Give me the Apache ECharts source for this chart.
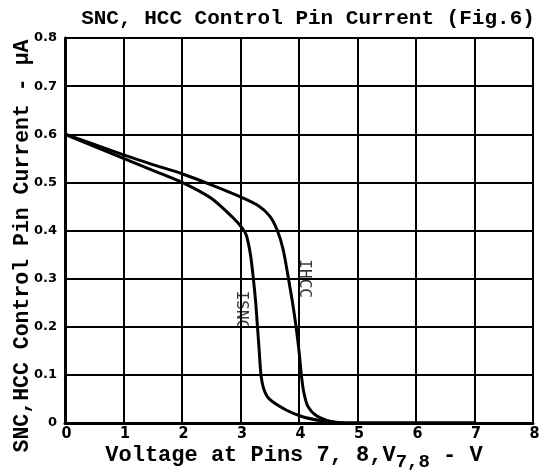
<!DOCTYPE html>
<html>
<head>
<meta charset="utf-8">
<script src="https://cdn.jsdelivr.net/npm/echarts@6/dist/echarts.min.js"></script>
<style>
  html, body { margin: 0; padding: 0; background: #fff; }
  #chart { width: 539px; height: 473px; }
</style>
</head>
<body>
<div id="chart"></div>
<script>
// curve data: [voltage V7,8, current µA]
const hccCurve = [
  [0, 0.6], [0.5, 0.579], [1, 0.557], [1.5, 0.537], [2, 0.518], [2.5, 0.495],
  [3, 0.47], [3.3, 0.452], [3.5, 0.43], [3.63, 0.4], [3.73, 0.36], [3.82, 0.3],
  [3.89, 0.25], [3.95, 0.2], [4.0, 0.15], [4.04, 0.1], [4.08, 0.065],
  [4.15, 0.035], [4.3, 0.015], [4.55, 0.003], [4.8, 0], [7, 0]
]
const sncCurve = [
  [0, 0.6], [0.5, 0.575], [1, 0.55], [1.5, 0.525], [2, 0.5], [2.5, 0.467],
  [2.86, 0.428], [3.03, 0.405], [3.1, 0.39], [3.17, 0.35], [3.22, 0.3],
  [3.26, 0.25], [3.29, 0.2], [3.32, 0.15], [3.35, 0.1], [3.4, 0.07],
  [3.49, 0.05], [3.78, 0.027], [4.06, 0.013], [4.35, 0.005], [4.6, 0], [7, 0]
]
const curveLabels = [
  { name: 'ISNC', value: [3.01, 0.235] },
  { name: 'IHCC', value: [4.09, 0.3] }
]
const xTicks = [0, 1, 2, 3, 4, 5, 6, 7, 8]
const yTicks = [0, 0.1, 0.2, 0.3, 0.4, 0.5, 0.6, 0.7, 0.8]

const mono = '"Liberation Mono", "DejaVu Sans Mono", monospace'

const myChart = echarts.init(document.getElementById('chart'))

const option = {
  animation: false,
  title: {
    text: 'SNC, HCC Control Pin Current (Fig.6)',
    left: 303,
    top: 3,
    textAlign: 'center',
    textStyle: { fontFamily: mono, fontWeight: 'bold', fontSize: 21, color: '#000' }
  },
  grid: { left: 65, right: 6, top: 38, bottom: 50, outerBoundsMode: 'none' },
  graphic: [
    {
      type: 'text',
      x: 23,
      y: 246,
      rotation: Math.PI / 2,
      style: {
        text: 'SNC,HCC Control Pin Current - μA',
        fontFamily: mono,
        fontWeight: 'bold',
        fontSize: 21.5,
        fill: '#000',
        align: 'center',
        verticalAlign: 'middle'
      }
    },
    {
      type: 'text',
      x: 294,
      y: 444,
      style: {
        text: '{m|Voltage at Pins 7, 8,V}{sub|7,8}{m| - V}',
        align: 'center',
        verticalAlign: 'top',
        rich: {
          m: {
            fontFamily: mono,
            fontWeight: 'bold',
            fontSize: 22,
            lineHeight: 22,
            verticalAlign: 'top',
            fill: '#000'
          },
          sub: {
            fontFamily: mono,
            fontWeight: 'bold',
            fontSize: 19,
            lineHeight: 19,
            padding: [9, 0, 0, 0],
            verticalAlign: 'top',
            fill: '#000'
          }
        }
      }
    }
  ],
  xAxis: {
    type: 'value',
    min: xTicks[0],
    max: xTicks[xTicks.length - 1],
    interval: 1,
    axisLine: { lineStyle: { color: '#000', width: 3 } },
    axisTick: { show: false },
    axisLabel: {
      margin: 3,
      fontFamily: '"Liberation Sans Narrow", "DejaVu Sans Condensed", "Liberation Sans", sans-serif',
      fontWeight: 'bold',
      fontSize: 16,
      color: '#000',
      padding: [0, 0, 0, 3],
      formatter: v => String(v)
    },
    splitLine: { lineStyle: { color: '#000', width: 2 } }
  },
  yAxis: {
    type: 'value',
    min: yTicks[0],
    max: yTicks[yTicks.length - 1],
    interval: 0.1,
    axisLine: { show: true, lineStyle: { color: '#000', width: 3 } },
    axisTick: { show: false },
    axisLabel: {
      margin: 8,
      fontFamily: '"DejaVu Sans", sans-serif',
      fontWeight: 'bold',
      fontSize: 13,
      color: '#000',
      formatter: v => (v === 0 ? '0' : v.toFixed(1))
    },
    splitLine: { lineStyle: { color: '#000', width: 2 } }
  },
  series: [
    {
      name: 'IHCC',
      type: 'line',
      data: hccCurve,
      smooth: 0.25,
      showSymbol: false,
      lineStyle: { color: '#000', width: 3 }
    },
    {
      name: 'ISNC',
      type: 'line',
      data: sncCurve,
      smooth: 0.25,
      showSymbol: false,
      lineStyle: { color: '#000', width: 3 }
    },
    {
      name: 'labels',
      type: 'scatter',
      data: curveLabels,
      symbolSize: 0,
      label: {
        show: true,
        position: 'inside',
        rotate: -90,
        formatter: '{b}',
        fontFamily: '"DejaVu Sans Mono", monospace',
        fontSize: 16,
        color: '#000'
      }
    }
  ]
}

myChart.setOption(option)
</script>
</body>
</html>
